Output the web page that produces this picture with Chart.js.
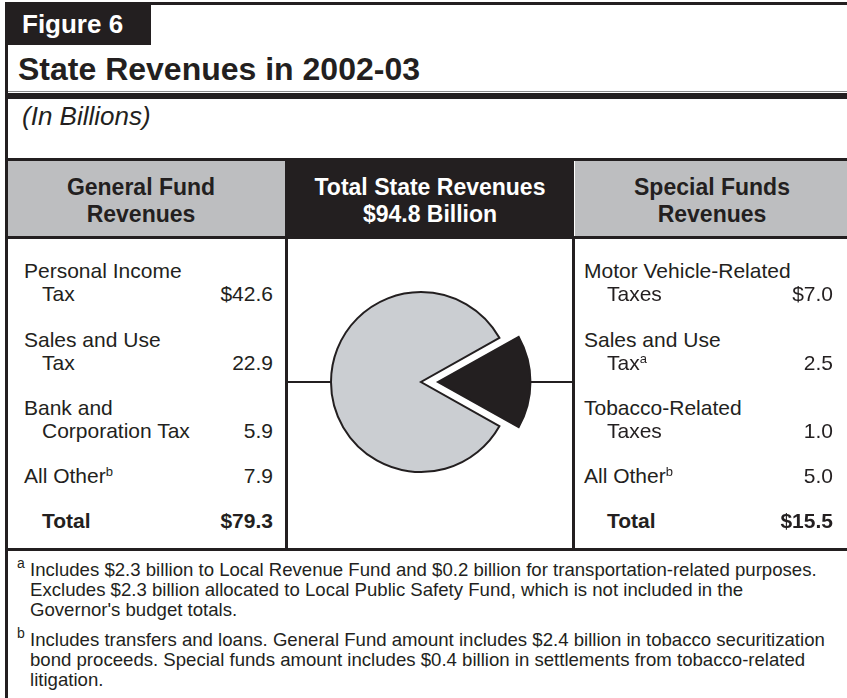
<!DOCTYPE html>
<html>
<head>
<meta charset="utf-8">
<script src="https://cdn.jsdelivr.net/npm/chart.js@4.4.1/dist/chart.umd.min.js"></script>
<style>
  html, body { margin: 0; padding: 0; background: #fff; }
  #page { position: relative; width: 847px; height: 698px; overflow: hidden;
          font-family: "Liberation Sans", Arial, sans-serif; color: #231f20; }
  .t { position: absolute; white-space: nowrap; }
  .box { position: absolute; }
  .sup { display: inline-block; position: relative; top: -7px; font-size: 13px; line-height: 13px; }
  #pie { position: absolute; left: 288px; top: 239px; }
</style>
</head>
<body>
<div id="page">
  <canvas id="pie" width="284" height="309"></canvas>
</div>
<script>
// Data (billions of dollars)
const fundNames = ['General Fund', 'Special Funds'];
const fundTotals = [79.3, 15.5];
const stateTotal = 94.8;

const generalLabels = [['Personal Income', 'Tax'], ['Sales and Use', 'Tax'], ['Bank and', 'Corporation Tax'], ['All Other']];
const generalNotes = ['', '', '', 'b'];
const generalValues = [42.6, 22.9, 5.9, 7.9];

const specialLabels = [['Motor Vehicle-Related', 'Taxes'], ['Sales and Use', 'Tax'], ['Tobacco-Related', 'Taxes'], ['All Other']];
const specialNotes = ['', 'a', '', 'b'];
const specialValues = [7.0, 2.5, 1.0, 5.0];

const footnotes = [
  ['a', ["Includes $2.3 billion to Local Revenue Fund and $0.2 billion for transportation-related purposes.",
         "Excludes $2.3 billion allocated to Local Public Safety Fund, which is not included in the",
         "Governor's budget totals."]],
  ['b', ["Includes transfers and loans. General Fund amount includes $2.4 billion in tobacco securitization",
         "bond proceeds. Special funds amount includes $0.4 billion in settlements from tobacco-related",
         "litigation."]]
];

const ink = '#231f20';
const headGray = '#bdbec0';
const pieGray = '#cbced2';
const page = document.getElementById('page');

function rect(x, y, w, h, color) {
  const d = document.createElement('div');
  d.className = 'box';
  d.style.cssText = `left:${x}px;top:${y}px;width:${w}px;height:${h}px;background:${color}`;
  page.appendChild(d);
}

// text placed by its baseline; align: left | right | center
function text(html, x, baseline, size, opts = {}) {
  const d = document.createElement('div');
  d.className = 't';
  d.innerHTML = html;
  const top = baseline - 0.8465 * size;
  let css = `top:${top}px;font-size:${size}px;line-height:${size}px;`;
  if (opts.bold) css += 'font-weight:bold;';
  if (opts.italic) css += 'font-style:italic;';
  if (opts.color) css += `color:${opts.color};`;
  if (opts.align === 'right') css += `left:${x - 400}px;width:400px;text-align:right;`;
  else if (opts.align === 'center') css += `left:${x - 200}px;width:400px;text-align:center;`;
  else css += `left:${x}px;`;
  d.style.cssText = css;
  page.appendChild(d);
}

// frame
rect(5, 2, 842, 3, ink);
rect(5, 2, 3, 696, ink);
rect(5, 2, 146, 43, ink);
rect(8, 91, 839, 1, '#8a8a8a');
rect(8, 93, 839, 6, ink);
rect(5, 158, 842, 3, ink);
rect(8, 161, 277, 75, headGray);
rect(285, 161, 289, 75, ink);
rect(575, 161, 272, 75, headGray);
rect(5, 236, 842, 3, ink);
rect(285, 239, 3, 310, ink);
rect(572, 239, 3, 310, ink);
rect(5, 548, 842, 3, ink);

// titles
text('Figure 6', 22, 33, 26, { bold: true, color: '#fff' });
text('State Revenues in 2002-03', 18, 80, 32, { bold: true });
text('(In Billions)', 22, 125, 26, { italic: true });

// column headings
text(fundNames[0], 141, 195, 23, { bold: true, align: 'center' });
text('Revenues', 141, 222, 23, { bold: true, align: 'center' });
text('Total State Revenues', 430, 195, 23, { bold: true, align: 'center', color: '#fff' });
text('$' + stateTotal.toFixed(1) + ' Billion', 430, 222, 23, { bold: true, align: 'center', color: '#fff' });
text(fundNames[1], 712, 195, 23, { bold: true, align: 'center' });
text('Revenues', 712, 222, 23, { bold: true, align: 'center' });

// revenue lists
function column(labels, notes, values, total, x0, xIndent, xRight) {
  labels.forEach((lines, i) => {
    const y = 278 + i * 68.4;
    lines.forEach((ln, j) => {
      const last = j === lines.length - 1;
      const note = last && notes[i] ? `<span class="sup">${notes[i]}</span>` : '';
      text(ln + note, j === 0 ? x0 : xIndent, y + j * 23, 21);
    });
    const valY = y + (lines.length - 1) * 23;
    text((i === 0 ? '$' : '') + values[i].toFixed(1), xRight, valY, 21, { align: 'right' });
  });
  text('Total', xIndent, 528, 21, { bold: true });
  text('$' + total.toFixed(1), xRight, 528, 21, { bold: true, align: 'right' });
}
column(generalLabels, generalNotes, generalValues, fundTotals[0], 24, 42, 273);
column(specialLabels, specialNotes, specialValues, fundTotals[1], 584, 607, 833);

// footnotes
footnotes.forEach(([mark, lines], k) => {
  const y0 = 577 + k * 70;
  text(mark, 17, y0 - 9, 14);
  lines.forEach((ln, j) => text(ln, 30, y0 + j * 20, 18.6));
});

// pie: general fund slice on the left, special funds slice pulled out to the right
const generalAngle = fundTotals[0] / (fundTotals[0] + fundTotals[1]) * 360;
const pullOut = 17; // px the special funds slice is moved out

const connectors = {
  id: 'connectors',
  afterDatasetsDraw(chart) {
    const arcs = chart.getDatasetMeta(0).data;
    const gen = arcs[0], spec = arcs[1];
    const { ctx, width } = chart;
    const mid = (spec.startAngle + spec.endAngle) / 2;
    // Chart.js moves an arc by offset/4 and grows it a little for narrow slices
    const shift = spec.options.offset / 4;
    const grow = shift * (1 - Math.sin(Math.min(Math.PI, spec.circumference)));
    const reach = shift + spec.outerRadius + grow;
    ctx.save();
    ctx.strokeStyle = ink;
    ctx.lineWidth = 2;
    ctx.beginPath();
    ctx.moveTo(0, gen.y);
    ctx.lineTo(gen.x - gen.outerRadius, gen.y);
    ctx.moveTo(spec.x + Math.cos(mid) * reach, spec.y);
    ctx.lineTo(width, spec.y);
    ctx.stroke();
    ctx.restore();
  }
};

new Chart(document.getElementById('pie'), {
  type: 'pie',
  data: {
    labels: fundNames,
    datasets: [{
      data: fundTotals,
      backgroundColor: [pieGray, ink],
      borderColor: ink,
      borderWidth: 2,
      borderJoinStyle: 'miter',
      offset: [0, pullOut * 4],
      hoverOffset: 0
    }]
  },
  options: {
    responsive: false,
    animation: false,
    events: [],
    radius: 90,
    rotation: 270 - generalAngle / 2,
    layout: { padding: { left: 0, top: 0, right: 18, bottom: 23 } },
    plugins: { legend: { display: false }, tooltip: { enabled: false } }
  },
  plugins: [connectors]
});
</script>
</body>
</html>
